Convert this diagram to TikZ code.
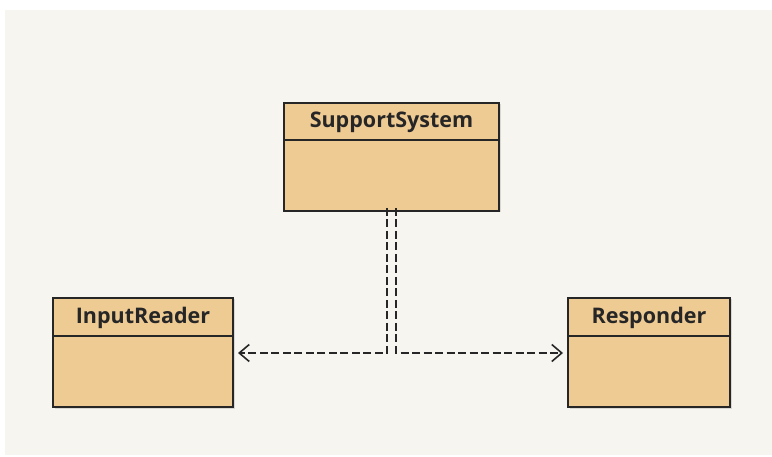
\documentclass[tikz,border=0pt]{standalone}
\usepackage{fontspec}
\setmainfont{Open Sans}
\usetikzlibrary{arrows.meta,shadows}
\definecolor{canvas}{HTML}{F6F5F0}
\definecolor{classfill}{HTML}{EFCB94}
\definecolor{ink}{HTML}{262626}
\tikzset{
  classbox/.style={draw=ink, line width=1.6pt, fill=classfill,
    drop shadow={shadow xshift=1.5pt, shadow yshift=-1.5pt, opacity=0.25}},
  classname/.style={font=\bfseries\fontsize{21.5}{23}\selectfont, text=ink},
  dep/.style={draw=ink, line width=1.6pt, dash pattern=on 8pt off 3.5pt},
  deptip/.style={-{Straight Barb[length=10pt,width=17pt,line width=1.6pt]}}
}
\begin{document}
\begin{tikzpicture}[x=1pt,y=-1pt]
  \useasboundingbox (0,0) rectangle (772,457);
  \fill[canvas] (5,10) rectangle (772,455);
  % classes
  \path[classbox] (284,103) rectangle (499,211);
  \draw[ink, line width=1.6pt] (284,140) -- (499,140);
  \node[classname] (ss) at (391.5,122) {SupportSystem};
  \coordinate (ssbot) at (391.5,211);

  \path[classbox] (53,298) rectangle (233,407);
  \draw[ink, line width=1.6pt] (53,336) -- (233,336);
  \node[classname] (ir) at (143,318) {InputReader};
  \coordinate (irr) at (238,353);

  \path[classbox] (568,298) rectangle (730,407);
  \draw[ink, line width=1.6pt] (568,336) -- (730,336);
  \node[classname] (rs) at (649,318) {Responder};
  \coordinate (rsl) at (563,353);

  % dependencies
  \draw[dep, deptip] ([xshift=-4.5pt,yshift=3pt]ssbot) |- (irr);
  \draw[dep, deptip] ([xshift=4.5pt,yshift=3pt]ssbot) |- (rsl);
\end{tikzpicture}
\end{document}
